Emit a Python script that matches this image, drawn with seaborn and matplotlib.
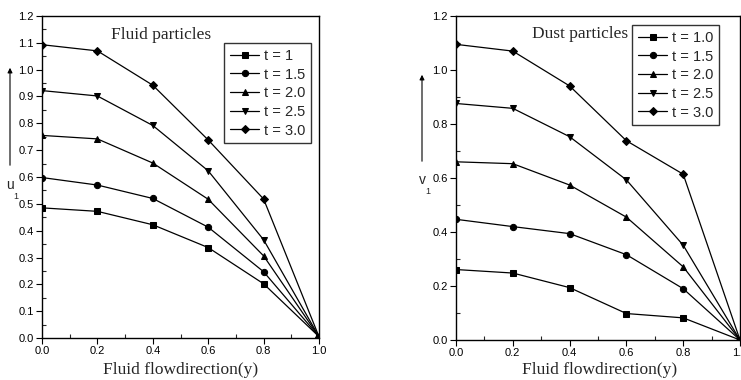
import numpy as np
import pandas as pd
import matplotlib
matplotlib.use("Agg")
import matplotlib.pyplot as plt
import seaborn as sns
from matplotlib.ticker import MultipleLocator, FixedLocator

# ---- data ----
y_pos = [0.0, 0.2, 0.4, 0.6, 0.8, 1.0]

fluid_labels = ["t = 1", "t = 1.5", "t = 2.0", "t = 2.5", "t = 3.0"]
u_t1 = [0.485, 0.472, 0.422, 0.337, 0.202, 0.005]
u_t15 = [0.598, 0.570, 0.520, 0.413, 0.247, 0.005]
u_t2 = [0.755, 0.742, 0.652, 0.517, 0.306, 0.005]
u_t25 = [0.922, 0.902, 0.792, 0.623, 0.366, 0.005]
u_t3 = [1.093, 1.070, 0.942, 0.738, 0.518, 0.005]

dust_labels = ["t = 1.0", "t = 1.5", "t = 2.0", "t = 2.5", "t = 3.0"]
v_t1 = [0.261, 0.248, 0.194, 0.098, 0.082, 0.0]
v_t15 = [0.447, 0.420, 0.394, 0.316, 0.190, 0.0]
v_t2 = [0.660, 0.653, 0.574, 0.455, 0.271, 0.0]
v_t25 = [0.876, 0.858, 0.753, 0.593, 0.351, 0.0]
v_t3 = [1.095, 1.070, 0.941, 0.738, 0.614, 0.0]

x_ticks = [0.0, 0.2, 0.4, 0.6, 0.8, 1.0]
x_ticklabels = ["0.0", "0.2", "0.4", "0.6", "0.8", "1.0"]

markers = ["s", "o", "^", "v", "D"]

sns.set_style("ticks")
plt.rcParams["font.family"] = ["Liberation Sans", "DejaVu Sans"]


def long_df(series, labels):
    rows = []
    for lab, vals in zip(labels, series):
        for x, v in zip(y_pos, vals):
            rows.append({"y": x, "val": v, "t": lab})
    return pd.DataFrame(rows)


fig = plt.figure(figsize=(7.41, 3.80), dpi=100)
ax1 = fig.add_axes([42 / 741, 42 / 380, 277 / 741, 322 / 380])
ax2 = fig.add_axes([456 / 741, 40 / 380, 284 / 741, 324 / 380])

panels = [
    (ax1, long_df([u_t1, u_t15, u_t2, u_t25, u_t3], fluid_labels), fluid_labels,
     0.1, 0.05, "Fluid particles", (0.43, 0.94), (0.971, 0.916)),
    (ax2, long_df([v_t1, v_t15, v_t2, v_t25, v_t3], dust_labels), dust_labels,
     0.2, 0.1, "Dust particles", (0.437, 0.944), (0.926, 0.972)),
]

for ax, df, labels, ymaj, ymin, title, tpos, lpos in panels:
    sns.lineplot(data=df, x="y", y="val", style="t", hue="t",
                 palette=["black"] * 5, markers=markers, dashes=False,
                 markersize=4.5, linewidth=0.9, markeredgecolor="black",
                 ax=ax, legend=True)
    ax.set_xlim(0, 1.0)
    ax.set_ylim(0, 1.2)
    ax.xaxis.set_major_locator(FixedLocator(x_ticks))
    ax.set_xticklabels(x_ticklabels)
    ax.xaxis.set_minor_locator(MultipleLocator(0.1))
    ax.yaxis.set_major_locator(MultipleLocator(ymaj))
    ax.yaxis.set_minor_locator(MultipleLocator(ymin))
    ax.tick_params(which="major", direction="out", length=4, width=0.8,
                   labelsize=8, pad=2, colors="black")
    ax.tick_params(which="minor", direction="in", length=3, width=0.8)
    ax.set_xlabel("")
    ax.set_ylabel("")
    for s in ax.spines.values():
        s.set_linewidth(1.0)
        s.set_color("black")
    ax.text(tpos[0], tpos[1], title, transform=ax.transAxes, ha="center",
            va="center", fontsize=12.5, family="Liberation Serif")
    handles, _ = ax.get_legend_handles_labels()
    handles = handles[-5:]
    leg = ax.legend(handles, labels, loc="upper right", bbox_to_anchor=lpos,
                    borderaxespad=0, fancybox=False, frameon=True,
                    edgecolor="black", fontsize=10.5, handlelength=2.0,
                    handletextpad=0.3, labelspacing=0.32, borderpad=0.4)
    leg.get_frame().set_linewidth(1.0)

# x labels
fig.text(181 / 741, 1 - 370 / 380, "Fluid flowdirection(y)", ha="center",
         va="center", fontsize=12.5, family="Liberation Serif")
fig.text(600 / 741, 1 - 370 / 380, "Fluid flowdirection(y)", ha="center",
         va="center", fontsize=12.5, family="Liberation Serif")

# y labels with arrows
for xa, ytop, ybot, letter, ylab in [(10, 65, 168, "u", 185), (422, 72, 164, "v", 180)]:
    fig.add_artist(matplotlib.patches.FancyArrowPatch(
        (xa / 741, 1 - ybot / 380), (xa / 741, 1 - ytop / 380),
        transform=fig.transFigure, arrowstyle="-|>", mutation_scale=7,
        color="black", linewidth=0.8))
    fig.text(xa / 741, 1 - ylab / 380, letter, ha="center", va="center", fontsize=10)
    fig.text((xa + 6) / 741, 1 - (ylab + 11) / 380, "1", ha="center", va="center", fontsize=6.5)

fig.savefig("out.png", dpi=100)
